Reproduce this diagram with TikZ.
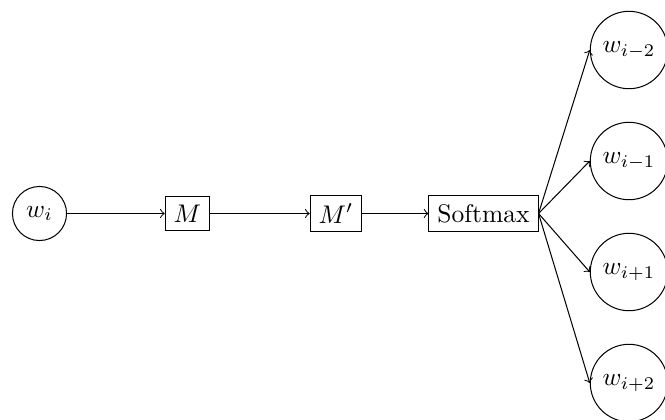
\documentclass[tikz,border=0pt]{standalone}
\begin{document}
\begin{tikzpicture}[x=0.3922pt, y=-0.3922pt,
  word/.style={draw, circle},
  stage/.style={draw, rectangle},
  flow/.style={->}]
\useasboundingbox (0,0) rectangle (665,419);
% input word
\node[word] (wi) at (39.5,213.5) {$w_i$};
% projection pipeline
\node[stage] (m)  at (187.5,213.5) {$M$};
\node[stage] (mp) at (336,213.5) {$M'$};
\node[stage] (sm) at (483.5,213.5) {Softmax};
% context words
\node[word] (wm2) at (629,50)  {$w_{i-2}$};
\node[word] (wm1) at (629,161) {$w_{i-1}$};
\node[word] (wp1) at (629,272) {$w_{i+1}$};
\node[word] (wp2) at (629,383) {$w_{i+2}$};
% connectors
\draw[flow] (wi) -- (m);
\draw[flow] (m) -- (mp);
\draw[flow] (mp) -- (sm);
\draw[flow] (sm.east) -- (wm2.west);
\draw[flow] (sm.east) -- (wm1.west);
\draw[flow] (sm.east) -- (wp1.west);
\draw[flow] (sm.east) -- (wp2.west);
\end{tikzpicture}
\end{document}
